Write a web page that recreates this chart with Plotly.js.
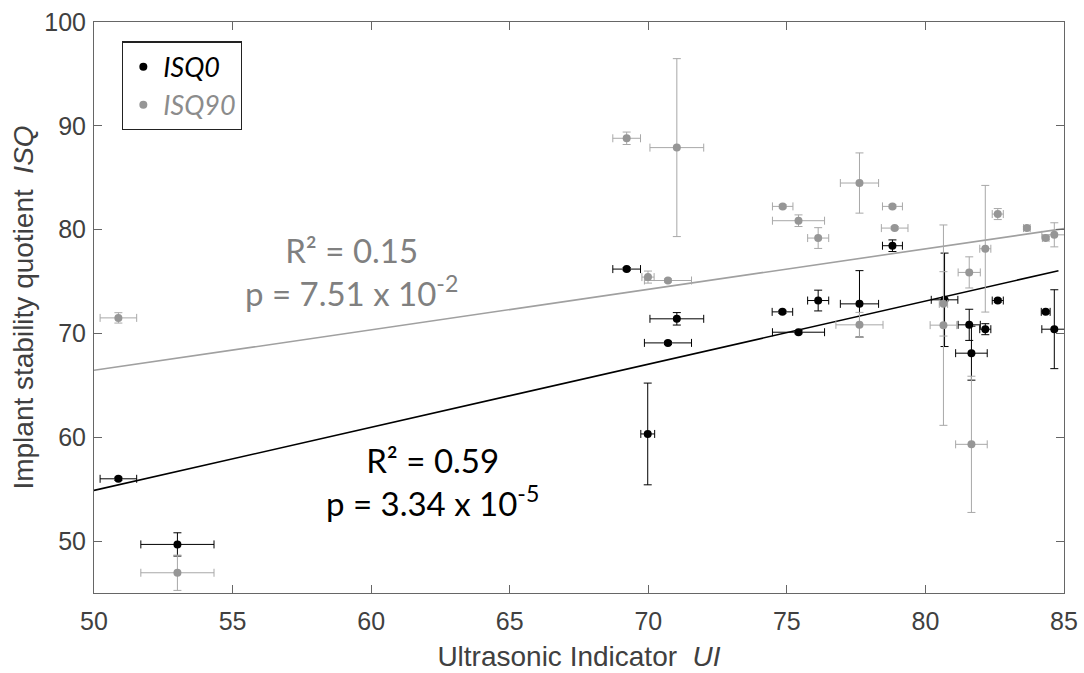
<!DOCTYPE html>
<html>
<head>
<meta charset="utf-8">
<script src="https://cdn.plot.ly/plotly-3.0.1.min.js"></script>
<style>html,body{margin:0;padding:0;background:#fff;}#chart{width:1084px;height:673px;}</style>
</head>
<body>
<div id="chart"></div>
<script>
// ISQ0 (black)
const isq0UI    = [50.88, 53.01, 69.22, 69.98, 70.71, 71.03, 74.84, 75.42, 76.13, 77.62, 78.81, 80.69, 81.58, 81.66, 82.16, 82.61, 84.34, 84.65];
const isq0Val   = [56.0, 49.68, 76.2, 60.32, 69.09, 71.41, 72.08, 70.12, 73.17, 72.85, 78.45, 73.24, 70.83, 68.1, 70.41, 73.17, 72.08, 70.41];
const isq0UIerr = [0.66, 1.32, 0.5, 0.25, 0.85, 0.97, 0.37, 0.94, 0.38, 0.69, 0.36, 0.48, 0.4, 0.57, 0.2, 0.2, 0.16, 0.45];
const isq0Err   = [0.15, 1.12, 0.15, 4.9, 0.15, 0.6, 0.15, 0.15, 1.0, 3.2, 0.56, 4.5, 1.5, 2.6, 0.53, 0.15, 0.15, 3.8];

// ISQ90 (grey)
const isq90UI    = [50.88, 53.01, 69.22, 69.99, 70.71, 71.03, 74.85, 75.42, 76.13, 77.62, 77.62, 78.81, 78.89, 80.65, 80.65, 81.58, 81.66, 82.16, 82.61, 83.66, 84.34, 84.65];
const isq90Val   = [71.5, 46.95, 88.8, 75.43, 75.1, 87.9, 82.24, 80.86, 79.19, 84.49, 70.83, 82.24, 80.15, 72.85, 70.8, 75.88, 59.32, 78.16, 81.5, 80.15, 79.19, 79.5];
const isq90UIerr = [0.66, 1.32, 0.5, 0.22, 0.85, 0.97, 0.37, 0.94, 0.38, 0.69, 0.85, 0.36, 0.48, 0.15, 0.48, 0.4, 0.57, 0.2, 0.2, 0.12, 0.12, 0.45];
const isq90Err   = [0.5, 1.7, 0.6, 0.58, 0.15, 8.57, 0.15, 0.56, 1.0, 2.9, 1.2, 0.15, 0.15, 3.1, 9.65, 1.5, 6.56, 6.1, 0.53, 0.15, 0.15, 1.16];

// Regression lines (end points)
const fit0X  = [50, 84.8];
const fit0Y  = [54.88, 76.04];
const fit90X = [50, 85];
const fit90Y = [66.45, 80.1];

const xTicks = [50, 55, 60, 65, 70, 75, 80, 85];
const yTicks = [50, 60, 70, 80, 90, 100];

const BLACK = '#000000';
const GREY = '#969696';
const GREY_ERR = '#a8a8a8';
const GREY_LINE = '#a0a0a0';

const traces = [
  {x: fit90X, y: fit90Y, mode: 'lines', line: {color: GREY_LINE, width: 1.6}, showlegend: false, hoverinfo: 'skip'},
  {x: fit0X, y: fit0Y, mode: 'lines', line: {color: BLACK, width: 1.6}, showlegend: false, hoverinfo: 'skip'},
  {
    x: isq0UI, y: isq0Val, mode: 'markers', name: '<i>ISQ0</i>', legendrank: 1,
    marker: {color: BLACK, size: 8},
    error_x: {type: 'data', array: isq0UIerr, color: BLACK, thickness: 1, width: 4},
    error_y: {type: 'data', array: isq0Err, color: BLACK, thickness: 1, width: 4}
  },
  {
    x: isq90UI, y: isq90Val, mode: 'markers', name: '<i><span style="color:#8c8c8c">ISQ90</span></i>', legendrank: 2,
    marker: {color: GREY, size: 8},
    error_x: {type: 'data', array: isq90UIerr, color: GREY_ERR, thickness: 1, width: 4},
    error_y: {type: 'data', array: isq90Err, color: GREY_ERR, thickness: 1, width: 4}
  }
];

const axisCommon = {
  showgrid: false, zeroline: false, showline: true, mirror: 'ticks',
  linecolor: '#666', linewidth: 1, ticks: 'inside', ticklen: 8, tickcolor: '#666',
  tickfont: {family: 'Liberation Sans, Arial, sans-serif', size: 25, color: '#404040'}
};

const layout = {
  width: 1084, height: 673,
  margin: {l: 94, r: 20, t: 22, b: 80},
  paper_bgcolor: '#fff', plot_bgcolor: '#fff',
  showlegend: true,
  legend: {
    x: 0.029, y: 0.966, xanchor: 'left', yanchor: 'top',
    bgcolor: '#fff', bordercolor: '#222', borderwidth: 1.2,
    font: {family: 'Lato, sans-serif', size: 27, color: '#000'},
    tracegroupgap: 0, itemwidth: 30
  },
  xaxis: Object.assign({}, axisCommon, {
    range: [50, 85], tickvals: xTicks, ticktext: xTicks.map(String),
    ticklabelstandoff: 6,
    title: {text: 'Ultrasonic Indicator  <i>UI</i>', font: {family: 'Liberation Sans, Arial, sans-serif', size: 28, color: '#404040'}, standoff: 12}
  }),
  yaxis: Object.assign({}, axisCommon, {
    range: [45, 100], tickvals: yTicks, ticktext: yTicks.map(String),
    ticklabelstandoff: 2,
    title: {text: 'Implant stability quotient  <i>ISQ</i>', font: {family: 'Liberation Sans, Arial, sans-serif', size: 28, color: '#404040'}, standoff: 2}
  }),
  annotations: [
    {x: 59.3, y: 76.0, xref: 'x', yref: 'y', showarrow: false, align: 'center',
     text: 'R² = 0.15<br>p = 7.51 x 10<sup>-2</sup>',
     font: {family: 'Lato, sans-serif', size: 33, color: '#808080'}},
    {x: 62.2, y: 55.7, xref: 'x', yref: 'y', showarrow: false, align: 'center',
     text: 'R² = 0.59<br>p = 3.34 x 10<sup>-5</sup>',
     font: {family: 'Lato, sans-serif', size: 33, color: '#000'}}
  ]
};

Plotly.newPlot('chart', traces, layout, {displayModeBar: false, staticPlot: true});
</script>
</body>
</html>
